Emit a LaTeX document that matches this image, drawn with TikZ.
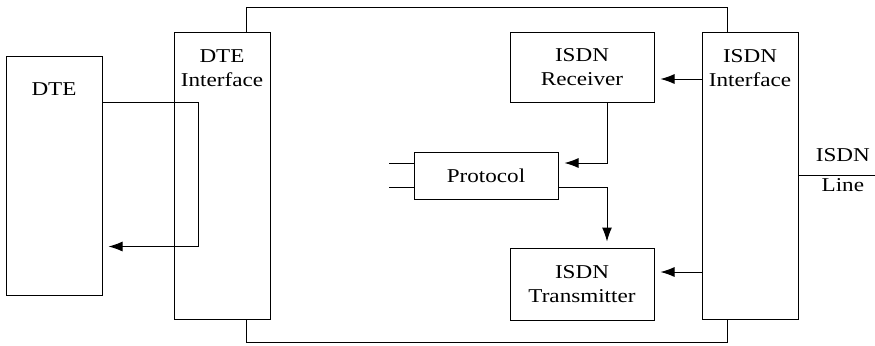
\documentclass[tikz,border=0pt]{standalone}
\usepackage{fontspec}
\setmainfont{Liberation Serif}[FakeStretch=1.18]
\usetikzlibrary{positioning,arrows.meta}
\tikzset{
  block/.style     = {shape=rectangle, draw, fill=white, line width=0.5pt,
                      inner sep=0pt, align=center},
  tallblock/.style = {block, minimum width=48pt, minimum height=143.5pt},
  wideblock/.style = {block, minimum width=72pt, minimum height=35pt},
  toptext/.style   = {anchor=north, inner sep=0pt, align=center},
  flow/.style      = {draw, line width=0.5pt,
                      -{Latex[length=7pt,width=5pt]}, shorten >=3pt},
  wire/.style      = {draw, line width=0.5pt}
}

\begin{document}
\begin{tikzpicture}
  [
    x                 = 0.5pt,
    y                 = -0.5pt,
    every node/.style = {font=\fontsize{9.8}{12}\selectfont}
  ]
\useasboundingbox (0,0) rectangle (875,345);

% housing of the adapter
\node [draw, line width=0.5pt, inner sep=0pt,
       minimum width=240.5pt, minimum height=167.5pt] (frame) at (486.5,174.5) {};

\node [tallblock, minimum height=119.5pt,
       label={[toptext, yshift=-13.5pt]north:DTE}] (dte) at (54,175.5) {};
\node [tallblock,
       label={[toptext, yshift=-9pt]north:{DTE\\Interface}}] (dtei) at (222,175.5) {};
\node [tallblock,
       label={[toptext, yshift=-9pt]north:{ISDN\\Interface}}] (isdni) at (750,175.5) {};

\node [wideblock] (rcv) at (582,67) {ISDN\\Receiver};
\node [wideblock, minimum height=36pt, below=72.5pt of rcv] (xmt) {ISDN\\Transmitter};
\node [wideblock, minimum height=23.5pt] (proto) at (486,175.5) {Protocol};

% DTE loop
\draw [flow] ([yshift=-23.5pt]dte.north east) -- ++(96,0)
             |- ([yshift=-95.5pt]dte.north east);

% ISDN side
\coordinate (rcvin) at ([yshift=-6pt]rcv.east);
\coordinate (xmtin) at ([yshift=6pt]xmt.east);
\draw [flow] (isdni.west |- rcvin) -- (rcvin);
\draw [flow] (isdni.west |- xmtin) -- (xmtin);
\draw [flow] ([xshift=12.5pt]rcv.south) |- ([yshift=6.25pt]proto.east);
\draw [flow] ([yshift=-6pt]proto.east) -| ([xshift=12.5pt]xmt.north);

% protocol inputs
\coordinate (in1) at (389,163);
\coordinate (in2) at (389,187.5);
\draw [wire] (in1) -- (proto.west |- in1);
\draw [wire] (in2) -- (proto.west |- in2);

% line
\coordinate (lineend) at (875,175.5);
\draw [wire] (isdni.east) -- (lineend)
  node [pos=0.58, above=3.5pt] (linetop) {ISDN}
  node [pos=0.58, below=1.5pt, inner sep=0pt] (linebot) {Line};
\end{tikzpicture}
\end{document}
